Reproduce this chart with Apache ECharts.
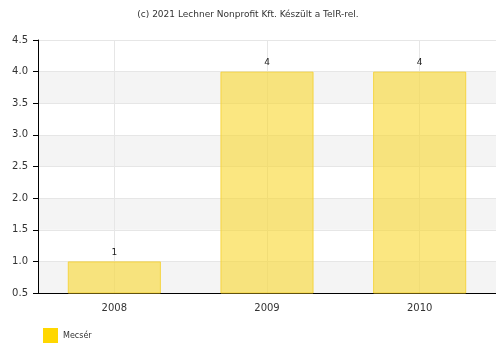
<!DOCTYPE html>
<html><head><meta charset="utf-8">
<script src="https://cdn.jsdelivr.net/npm/echarts@6/dist/echarts.min.js"></script>
<style>html,body{margin:0;padding:0;background:#fff}#c{width:496px;height:343px}</style>
</head><body><div id="c"></div>
<script>
const categories = ['2008', '2009', '2010'];
const values = [1, 4, 4];
const seriesName = 'Mecsér';
const titleText = '(c) 2021 Lechner Nonprofit Kft. Készült a TeIR-rel.';
const chart = echarts.init(document.getElementById('c'));
const font = 'DejaVu Sans';
// helper axis: 2n+1 slots without boundary gap, odd slots = category centres
const helperSlots = Array.from({ length: categories.length * 2 + 1 }, (_, i) => String(i));
chart.setOption({
  animation: false,
  title: { text: titleText, left: 'center', top: 5, textStyle: { fontSize: 9, fontWeight: 'normal', color: '#333', fontFamily: font } },
  legend: { data: [seriesName], left: 43, top: 328, padding: 0, itemWidth: 15, itemHeight: 16, itemGap: 5, icon: 'rect',
    itemStyle: { color: '#FFD700', borderWidth: 0 },
    textStyle: { fontSize: 8, color: '#333', fontFamily: font } },
  grid: { left: 38, right: 0, top: 40, bottom: 50, containLabel: false },
  xAxis: [{ type: 'category', data: categories,
    axisLine: { lineStyle: { color: '#000' } },
    axisTick: { alignWithLabel: true, length: 5, lineStyle: { color: '#000' } },
    axisLabel: { fontSize: 10, color: '#333', fontFamily: font, margin: 10 },
    splitLine: { show: false } },
  { type: 'category', data: helperSlots, boundaryGap: false, position: 'bottom', z: 0,
    axisLine: { show: false }, axisTick: { show: false }, axisLabel: { show: false },
    splitLine: { show: true, interval: (i) => i % 2 === 1, lineStyle: { color: '#e6e6e6' } } }],
  yAxis: { type: 'value', min: 0.5, max: 4.5, interval: 0.5,
    axisLine: { show: true, lineStyle: { color: '#000' } },
    axisTick: { show: true, length: 5, lineStyle: { color: '#000' } },
    axisLabel: { fontSize: 10, color: '#333', fontFamily: font, margin: 10, formatter: v => v.toFixed(1) },
    splitLine: { show: true, lineStyle: { color: '#e6e6e6' } },
    splitArea: { show: true, areaStyle: { color: ['#f4f4f4', '#ffffff'] } } },
  series: [{ name: seriesName, type: 'bar', data: values, barWidth: '61%', xAxisIndex: 0,
    itemStyle: { color: 'rgba(248,215,45,0.6)', borderColor: 'rgba(245,208,40,0.8)', borderWidth: 1 },
    label: { show: true, position: 'top', fontSize: 9, color: '#222', fontFamily: font, distance: 4 } }]
});
</script></body></html>
